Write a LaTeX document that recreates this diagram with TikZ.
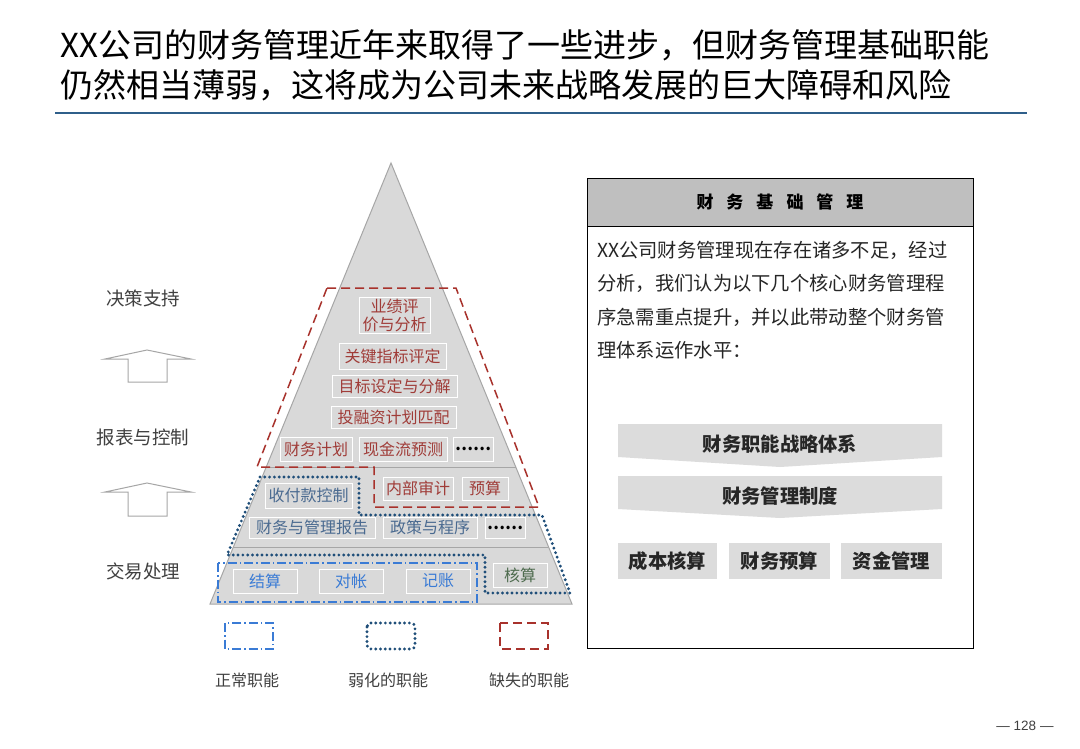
\documentclass[tikz,border=0pt]{standalone}
\usepackage{fontspec}
\usetikzlibrary{calc}
\setmainfont{Noto Sans CJK SC}
\newfontfamily\numfont{Liberation Sans}
\definecolor{pyr}{HTML}{D9D9D9}
\definecolor{pyredge}{HTML}{A6A6A6}
\definecolor{redtxt}{HTML}{A03C38}
\definecolor{redline}{HTML}{A8322C}
\definecolor{navy}{HTML}{1F4E79}
\definecolor{bluetxt}{HTML}{4A6A90}
\definecolor{brightblue}{HTML}{3A7BD5}
\definecolor{greentxt}{HTML}{4E6B4E}
\definecolor{darktxt}{HTML}{404040}
\definecolor{bodytxt}{HTML}{262626}
\definecolor{rule}{HTML}{2F5F8A}
\definecolor{hdr}{HTML}{BFBFBF}
\definecolor{chev}{HTML}{DCDCDC}
\tikzset{
  pbox/.style={draw=white, line width=0.8pt, fill=pyr, inner sep=0pt, font=\fontsize{16}{19}\selectfont},
  redbox/.style={pbox, text=redtxt},
  bluebox/.style={pbox, text=bluetxt},
  normbox/.style={pbox, text=brightblue},
  dotsbox/.style={pbox, text=black, font=\fontsize{16}{19}\selectfont\bfseries},
  missing/.style={draw=redline, line width=1.5pt, dash pattern=on 9pt off 5pt},
  weak/.style={draw=navy, line width=3.2pt, dash pattern=on 0pt off 4.8pt, line cap=round},
  normal/.style={draw=brightblue, line width=2pt, dash pattern=on 9pt off 3pt on 1.5pt off 3pt},
  sidelabel/.style={text=darktxt, font=\fontsize{18.5}{22}\selectfont},
  legendlabel/.style={text=darktxt, font=\fontsize{16}{19}\selectfont},
  bodyline/.style={anchor=west, text=bodytxt, inner sep=0pt, font=\fontsize{19.3}{23}\selectfont},
  chevtext/.style={text=bodytxt, font=\fontsize{19.3}{23}\selectfont\bfseries},
  blockarrow/.style={draw=pyredge, line width=1pt, fill=white},
}
\begin{document}
\begin{tikzpicture}[x=1pt,y=-1pt]
\useasboundingbox (0,0) rectangle (1080,748);
\fill[white] (0,0) rectangle (1080,748);

% title
\node[anchor=west, inner sep=0pt, font=\fontsize{33}{40}\selectfont] (title1) at (60,45) {XX公司的财务管理近年来取得了一些进步，但财务管理基础职能};
\node[anchor=west, inner sep=0pt, font=\fontsize{33}{40}\selectfont] (title2) at (60,85) {仍然相当薄弱，这将成为公司未来战略发展的巨大障碍和风险};
\draw[rule, line width=1.5pt] (55,113) -- (1027,113);

% pyramid
\coordinate (apex) at (391,163);
\coordinate (bl) at (210,604);
\coordinate (br) at (572,604);
\draw[pyredge, fill=pyr, line width=1pt] (apex) -- (br) -- (bl) -- cycle;
\draw[gray!70, line width=0.7pt] ($(apex)!0.689!(bl)$) -- ($(apex)!0.689!(br)$);
\draw[gray!70, line width=0.7pt] ($(apex)!0.871!(bl)$) -- ($(apex)!0.871!(br)$);

% boxes
\node[redbox, minimum width=71pt, minimum height=36pt, align=center, font=\fontsize{16}{18}\selectfont] (perf) at (394.5,315) {业绩评\\价与分析};
\node[redbox, minimum width=107pt, minimum height=26pt] (key) at (392.5,356) {关键指标评定};
\node[redbox, minimum width=125pt, minimum height=22pt] (goal) at (394.5,386) {目标设定与分解};
\node[redbox, minimum width=125pt, minimum height=22pt] (inv) at (393.5,417) {投融资计划匹配};
\node[redbox, minimum width=72pt, minimum height=24pt] (plan) at (316,449) {财务计划};
\node[redbox, minimum width=88pt, minimum height=24pt] (cash) at (403,449) {现金流预测};
\node[dotsbox, minimum width=40pt, minimum height=24pt] (dots1) at (473,449) {……};
\node[redbox, minimum width=70pt, minimum height=23pt] (audit) at (418,488.5) {内部审计};
\node[redbox, minimum width=46pt, minimum height=23pt] (budget) at (485,488.5) {预算};
\node[bluebox, minimum width=87pt, minimum height=25pt] (pay) at (308.5,495.5) {收付款控制};
\node[bluebox, minimum width=126pt, minimum height=21pt] (report) at (312,527.5) {财务与管理报告};
\node[bluebox, minimum width=94pt, minimum height=21pt] (policy) at (430,527.5) {政策与程序};
\node[dotsbox, minimum width=40pt, minimum height=21pt] (dots2) at (505,527.5) {……};
\node[normbox, minimum width=64pt, minimum height=24pt] (settle) at (265,581) {结算};
\node[normbox, minimum width=64pt, minimum height=24pt] (recon) at (351,581) {对帐};
\node[normbox, minimum width=64pt, minimum height=24pt] (book) at (438,581) {记账};
\node[pbox, text=greentxt, minimum width=54pt, minimum height=24pt] (acct) at (520,575) {核算};

% function outlines
\draw[missing] (327,288) -- (456,288) -- (539,507) -- (374,507) -- (374,467) -- (257,467) -- cycle;
\draw[weak] (260,477) -- (359,477) -- (359,515) -- (542,515) -- (570,593) -- (485,593) -- (485,555) -- (227,555) -- cycle;
\draw[normal] (218,563) rectangle (477,602);

% left labels and arrows
\node[sidelabel] (lbl1) at (143,298) {决策支持};
\node[sidelabel] (lbl2) at (143,437) {报表与控制};
\node[sidelabel] (lbl3) at (143,571) {交易处理};
\draw[blockarrow] (147,350) -- (191,359) -- (167,359) -- (167,382) -- (128,382) -- (128,359) -- (105,359) -- cycle;
\draw[blockarrow] (147,483) -- (191,492) -- (167,492) -- (167,516) -- (128,516) -- (128,492) -- (105,492) -- cycle;

% legend
\draw[normal] (225,623) rectangle (273,649);
\draw[weak, rounded corners=4pt] (367,623) rectangle (415,649);
\draw[missing] (500,623) rectangle (548,649);
\node[legendlabel] (leg1) at (247,680) {正常职能};
\node[legendlabel] (leg2) at (388,680) {弱化的职能};
\node[legendlabel] (leg3) at (529,680) {缺失的职能};

% right panel
\draw[black, line width=1pt, fill=white] (587,178) rectangle (973,648);
\draw[black, line width=1pt, fill=hdr] (587,178) rectangle (973,226);
\node[text=black, font=\fontsize{17}{20}\selectfont\bfseries] (hdrtext) at (780,202) {财\hspace{13pt}务\hspace{13pt}基\hspace{13pt}础\hspace{13pt}管\hspace{13pt}理};
\node[bodyline] (b1) at (597,250) {XX公司财务管理现在存在诸多不足，经过};
\node[bodyline] (b2) at (597,283.5) {分析，我们认为以下几个核心财务管理程};
\node[bodyline] (b3) at (597,317) {序急需重点提升，并以此带动整个财务管};
\node[bodyline] (b4) at (597,350) {理体系运作水平：};

\fill[chev] (618,424) -- (942,424) -- (942,457) -- (780,467) -- (618,457) -- cycle;
\node[chevtext] (c1) at (780,444) {财务职能战略体系};
\fill[chev] (618,476) -- (942,476) -- (942,509) -- (780,518) -- (618,509) -- cycle;
\node[chevtext] (c2) at (780,496) {财务管理制度};
\node[chevtext, fill=chev, minimum width=99pt, minimum height=36pt, inner sep=0pt] (k1) at (667.5,561) {成本核算};
\node[chevtext, fill=chev, minimum width=101pt, minimum height=36pt, inner sep=0pt] (k2) at (779.5,561) {财务预算};
\node[chevtext, fill=chev, minimum width=101pt, minimum height=36pt, inner sep=0pt] (k3) at (891.5,561) {资金管理};

% page number
\node[text=darktxt, font=\numfont\fontsize{13.5}{16}\selectfont] (page) at (1025,726) {— 128 —};
\end{tikzpicture}
\end{document}
